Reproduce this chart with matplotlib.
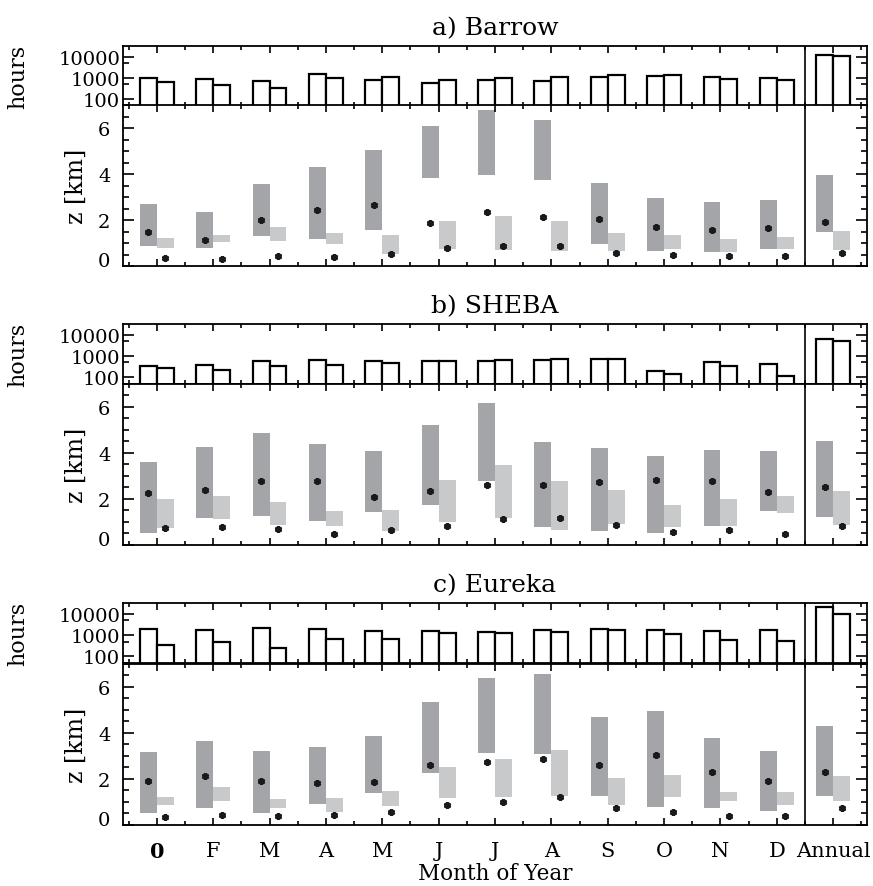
import matplotlib
matplotlib.use("Agg")
import matplotlib.pyplot as plt
import numpy as np
from matplotlib.ticker import NullFormatter

plt.rcParams['font.family'] = ['DejaVu Serif']

months = ['0', 'F', 'M', 'A', 'M', 'J', 'J', 'A', 'S', 'O', 'N', 'D', 'Annual']
stations = ['a) Barrow', 'b) SHEBA', 'c) Eureka']

# ---- a) Barrow ----
barrow_hrs1 = [1000, 860, 720, 1550, 830, 600, 770, 720, 1120, 1290, 1070, 960, 12600]
barrow_hrs2 = [660, 480, 330, 1000, 1070, 770, 960, 1120, 1340, 1390, 900, 800, 10700]
barrow_dark_top = [2.73, 2.37, 3.60, 4.30, 5.04, 6.12, 6.79, 6.36, 3.64, 2.99, 2.81, 2.90, 3.99]
barrow_dark_bot = [0.90, 0.80, 1.30, 1.19, 1.60, 3.83, 3.96, 3.75, 0.99, 0.68, 0.64, 0.76, 1.51]
barrow_dark_pt = [1.49, 1.15, 2.03, 2.45, 2.65, 1.88, 2.35, 2.14, 2.05, 1.70, 1.60, 1.66, 1.92]
barrow_light_top = [1.24, 1.37, 1.72, 1.46, 1.37, 1.98, 2.20, 1.98, 1.46, 1.37, 1.19, 1.28, 1.54]
barrow_light_bot = [0.80, 1.08, 1.12, 0.95, 0.54, 0.76, 0.73, 0.68, 0.68, 0.76, 0.64, 0.76, 0.73]
barrow_light_pt = [0.36, 0.30, 0.44, 0.39, 0.52, 0.80, 0.89, 0.90, 0.57, 0.49, 0.44, 0.44, 0.57]

# ---- b) SHEBA ----
sheba_hrs1 = [360, 370, 560, 620, 560, 560, 560, 670, 720, 190, 540, 415, 6150]
sheba_hrs2 = [270, 225, 360, 400, 480, 560, 620, 720, 700, 145, 360, 120, 5200]
sheba_dark_top = [3.59, 4.24, 4.86, 4.37, 4.07, 5.21, 6.17, 4.46, 4.20, 3.85, 4.11, 4.07, 4.51]
sheba_dark_bot = [0.52, 1.17, 1.27, 1.02, 1.41, 1.72, 2.77, 0.76, 0.58, 0.52, 0.80, 1.46, 1.19]
sheba_dark_pt = [2.23, 2.39, 2.77, 2.79, 2.06, 2.32, 2.58, 2.58, 2.74, 2.81, 2.77, 2.30, 2.52]
sheba_light_top = [1.97, 2.14, 1.84, 1.49, 1.53, 2.80, 3.46, 2.76, 2.36, 1.75, 2.01, 2.14, 2.32]
sheba_light_bot = [0.74, 1.11, 0.87, 0.80, 0.58, 0.98, 1.15, 0.63, 0.89, 0.76, 0.80, 1.37, 0.84]
sheba_light_pt = [0.73, 0.79, 0.70, 0.49, 0.63, 0.83, 1.11, 1.15, 0.84, 0.55, 0.63, 0.47, 0.82]

# ---- c) Eureka ----
eureka_hrs1 = [1900, 1750, 2250, 2030, 1520, 1630, 1360, 1750, 1900, 1820, 1630, 1820, 20500]
eureka_hrs2 = [355, 460, 240, 635, 680, 1260, 1260, 1410, 1750, 1090, 590, 510, 10400]
eureka_dark_top = [3.14, 3.62, 3.18, 3.36, 3.84, 5.32, 6.37, 6.55, 4.67, 4.93, 3.75, 3.18, 4.27]
eureka_dark_bot = [0.51, 0.70, 0.51, 0.91, 1.39, 2.22, 3.09, 3.05, 1.26, 0.77, 0.70, 0.60, 1.26]
eureka_dark_pt = [1.90, 2.12, 1.90, 1.79, 1.85, 2.57, 2.70, 2.86, 2.57, 3.01, 2.29, 1.91, 2.27]
eureka_light_top = [1.21, 1.65, 1.12, 1.17, 1.47, 2.48, 2.83, 3.22, 2.04, 2.17, 1.43, 1.43, 2.13]
eureka_light_bot = [0.86, 1.04, 0.74, 0.56, 0.82, 1.14, 1.21, 1.26, 0.87, 1.21, 1.01, 0.87, 1.01]
eureka_light_pt = [0.32, 0.41, 0.37, 0.42, 0.54, 0.83, 0.99, 1.18, 0.74, 0.56, 0.35, 0.39, 0.72]

data = [
    (barrow_hrs1, barrow_hrs2, barrow_dark_top, barrow_dark_bot, barrow_dark_pt,
     barrow_light_top, barrow_light_bot, barrow_light_pt),
    (sheba_hrs1, sheba_hrs2, sheba_dark_top, sheba_dark_bot, sheba_dark_pt,
     sheba_light_top, sheba_light_bot, sheba_light_pt),
    (eureka_hrs1, eureka_hrs2, eureka_dark_top, eureka_dark_bot, eureka_dark_pt,
     eureka_light_top, eureka_light_bot, eureka_light_pt),
]

dark = '#a4a5a9'
light = '#c8c9cb'
w = 0.3
x = np.arange(len(months))

fig = plt.figure(figsize=(8.73, 8.87), dpi=100)

left, width = 0.1409, 0.8522
# (hours bottom, lower bottom) for each panel
rows = [(0.8799, 0.6986), (0.5663, 0.3847), (0.2516, 0.0693)]
h_hrs, h_z = 0.0670, 0.1815

for k, (hb, zb) in enumerate(rows):
    hrs1, hrs2, dtop, dbot, dpt, ltop, lbot, lpt = data[k]
    axh = fig.add_axes([left, hb, width, h_hrs])
    axz = fig.add_axes([left, zb, width, h_z])

    # hours panel
    axh.bar(x - w / 2, np.array(hrs1) - 1, width=w, bottom=1, facecolor='white',
            edgecolor='black', linewidth=1.6)
    axh.bar(x + w / 2, np.array(hrs2) - 1, width=w, bottom=1, facecolor='white',
            edgecolor='black', linewidth=1.6)
    axh.set_yscale('log')
    axh.set_ylim(50, 31623)
    axh.set_yticks([100, 1000, 10000], labels=['100', '1000', '10000'])
    axh.set_yticks([50, 500, 5000], minor=True)
    axh.yaxis.set_minor_formatter(NullFormatter())
    axh.set_ylabel('hours', fontsize=16, va='center')
    axh.yaxis.set_label_coords(-0.141, 0.5)
    axh.set_title(stations[k], fontsize=18, pad=8.5)

    # height panel
    axz.bar(x - w / 2, np.array(dtop) - np.array(dbot), width=w, bottom=dbot,
            color=dark, linewidth=0)
    axz.bar(x + w / 2, np.array(ltop) - np.array(lbot), width=w, bottom=lbot,
            color=light, linewidth=0)
    axz.plot(x - w / 2, dpt, linestyle='none', marker=(6, 2, 0), ms=5, mew=1.8,
             color='#1a1a1a')
    axz.plot(x + w / 2, lpt, linestyle='none', marker=(6, 2, 0), ms=5, mew=1.8,
             color='#1a1a1a')
    axz.set_ylim(0, 7)
    axz.set_yticks([0, 2, 4, 6])
    axz.set_yticks(np.arange(0, 7.01, 0.5), minor=True)
    axz.set_ylabel('z [km]', fontsize=17, va='center')
    axz.yaxis.set_label_coords(-0.063, 0.5)
    for t in axz.get_yticklabels():
        if t.get_text() == '0':
            t.set_va('baseline')

    for ax in (axh, axz):
        ax.set_xlim(-0.6, 12.6)
        ax.set_xticks(x)
        ax.set_xticks(np.arange(-0.5, 12.51, 1.0), minor=True)
        ax.axvline(11.5, color='black', linewidth=1.2)
        for s in ax.spines.values():
            s.set_linewidth(1.3)
        ax.tick_params(which='both', direction='in', top=True, right=True,
                       width=1.2, labelsize=14)
        ax.tick_params(which='major', axis='x', length=5)
        ax.tick_params(which='minor', axis='x', length=3)
        ax.tick_params(which='major', axis='y', length=8)
        ax.tick_params(which='minor', axis='y', length=4)
    axh.tick_params(axis='y', pad=2)
    axz.tick_params(axis='y', pad=9)
    axh.set_xticklabels([])
    if k < 2:
        axz.set_xticklabels([])
    else:
        axz.set_xticklabels(months, fontsize=15)
        axz.get_xticklabels()[0].set_fontweight('bold')
        axz.tick_params(axis='x', pad=12)

fig.text(left + width / 2, 1 - 874 / 887, 'Month of Year', ha='center',
         va='center', fontsize=15.5)

fig.savefig('out.png', dpi=100)
